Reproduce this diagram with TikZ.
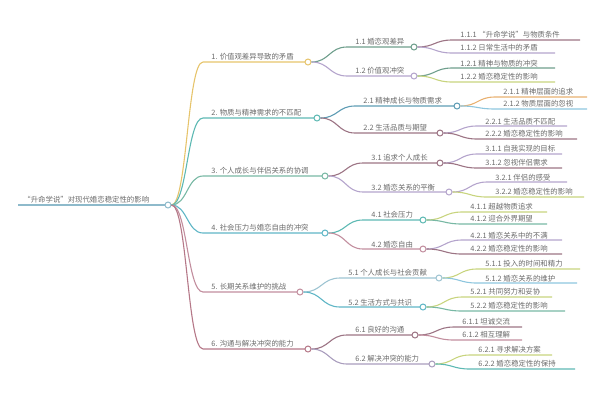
\documentclass[tikz,border=0pt]{standalone}
\usepackage{fontspec}
\setmainfont{Noto Sans CJK SC}
\usetikzlibrary{calc}
\definecolor{cA}{HTML}{E6C46C}\definecolor{cB}{HTML}{5DB9B3}\definecolor{cC}{HTML}{78B8A4}
\definecolor{cD}{HTML}{5FB6C6}\definecolor{cE}{HTML}{C28E9E}\definecolor{cF}{HTML}{B57888}
\definecolor{cG}{HTML}{6E9E8C}\definecolor{cH}{HTML}{B4A4CC}\definecolor{cI}{HTML}{5E9CB4}
\definecolor{cJ}{HTML}{9C7484}\definecolor{cK}{HTML}{C8D47E}\definecolor{cL}{HTML}{E8B070}
\definecolor{cM}{HTML}{8EC6DE}\definecolor{txt}{HTML}{6A6A6A}
\tikzset{
 lbl/.style={anchor=south west,inner sep=1.2pt,font=\fontsize{7.4}{8}\selectfont,text=txt},
 ul/.style={line width=1.1pt},
 dot/.style={circle,fill=white,line width=1pt,inner sep=0pt,minimum size=6pt}
}
\begin{document}
\begin{tikzpicture}[x=1pt,y=-1pt]
\useasboundingbox (0,0) rectangle (600,400);
\node[lbl] (r) at (22,205) {“升命学说”对现代婚恋稳定性的影响};
\draw[ul,draw=cI!70] (18,205) -- (165,205);
\node[dot,draw=cI!70] (r-c) at (168,205) {};
% levels 1 and 2
\foreach \nm/\pa/\yv/\xs/\xe/\c/\t in {
 a/r/62/203/308/cA/1. 价值观差异导致的矛盾,
 b/r/118/203/317/cB/2. 物质与精神需求的不匹配,
 c/r/176/203/325/cC/3. 个人成长与伴侣关系的协调,
 d/r/233/203/325/cD/4. 社会压力与婚恋自由的冲突,
 e/r/292/203/300/cE/5. 长期关系维护的挑战,
 f/r/349/203/308/cF/6. 沟通与解决冲突的能力,
 a1/a/47/347/414/cG/1.1 婚恋观差异,
 a2/a/76/347/414/cH/1.2 价值观冲突,
 b1/b/106/355/457/cI/2.1 精神成长与物质需求,
 b2/b/133/355/440/cJ/2.2 生活品质与期望,
 c1/c/163/363/440/cJ/3.1 追求个人成长,
 c2/c/192/363/449/cH/3.2 婚恋关系的平衡,
 d1/d/220/363/423/cB/4.1 社会压力,
 d2/d/249/363/423/cE/4.2 婚恋自由,
 e1/e/278/340/439/cI!60/5.1 个人成长与社会贡献,
 e2/e/307/340/423/cD/5.2 生活方式与共识,
 f1/f/335/347/415/cJ/6.1 良好的沟通,
 f2/f/364/347/432/cH!80!gray/6.2 解决冲突的能力}{
 \node[lbl] (\nm) at (\xs+7,\yv) {\t};
 \coordinate (\nm-s) at (\xs,\yv);
 \coordinate (\nm-e) at (\xe-3,\yv);
 \draw[ul,draw=\c] let \p1=(\pa-c.east), \p2=(\nm-s) in
   (\p1) .. controls ({0.5*\x1+0.5*\x2},\y1) and ({0.5*\x1+0.5*\x2},\y2) .. (\p2) -- (\nm-e);
 \node[dot,draw=\c] (\nm-c) at (\xe,\yv) {};
}
% level 3
\foreach \nm/\pa/\yv/\xs/\xe/\c/\t in {
 a11/a1/40/452/580/cJ/1.1.1 “升命学说”与物质条件,
 a12/a1/53/452/555/cH/1.1.2 日常生活中的矛盾,
 a21/a2/68/452/555/cG/1.2.1 精神与物质的冲突,
 a22/a2/82/452/555/cK/1.2.2 婚恋稳定性的影响,
 b11/b1/97/495/587/cL/2.1.1 精神层面的追求,
 b12/b1/109/495/587/cM/2.1.2 物质层面的忽视,
 b21/b2/126/477/567/cH/2.2.1 生活品质不匹配,
 b22/b2/139/477/577/cJ/2.2.2 婚恋稳定性的影响,
 c11/c1/154/477/562/cH/3.1.1 自我实现的目标,
 c12/c1/168/477/562/cJ/3.1.2 忽视伴侣需求,
 c21/c2/182/487/567/cH/3.2.1 伴侣的感受,
 c22/c2/197/487/584/cK/3.2.2 婚恋稳定性的影响,
 d11/d1/212/462/547/cK/4.1.1 超越物质追求,
 d12/d1/224/462/547/cC/4.1.2 迎合外界期望,
 d21/d2/240/462/562/cH/4.2.1 婚恋关系中的不满,
 d22/d2/254/462/562/cJ/4.2.2 婚恋稳定性的影响,
 e11/e1/269/477/580/cK/5.1.1 投入的时间和精力,
 e12/e1/283/477/577/cM/5.1.2 婚恋关系的维护,
 e21/e2/297/462/552/cK/5.2.1 共同努力和妥协,
 e22/e2/311/462/565/cC/5.2.2 婚恋稳定性的影响,
 f11/f1/327/454/522/cJ/6.1.1 坦诚交流,
 f12/f1/340/454/522/cE/6.1.2 相互理解,
 f21/f2/355/470/552/cK/6.2.1 寻求解决方案,
 f22/f2/369/470/575/cB/6.2.2 婚恋稳定性的保持}{
 \node[lbl] (\nm) at (\xs+7,\yv) {\t};
 \coordinate (\nm-s) at (\xs,\yv);
 \coordinate (\nm-e) at (\xe,\yv);
 \draw[ul,draw=\c] let \p1=(\pa-c.east), \p2=(\nm-s) in
   (\p1) .. controls ({0.5*\x1+0.5*\x2},\y1) and ({0.5*\x1+0.5*\x2},\y2) .. (\p2) -- (\nm-e);
}
\end{tikzpicture}
\end{document}
